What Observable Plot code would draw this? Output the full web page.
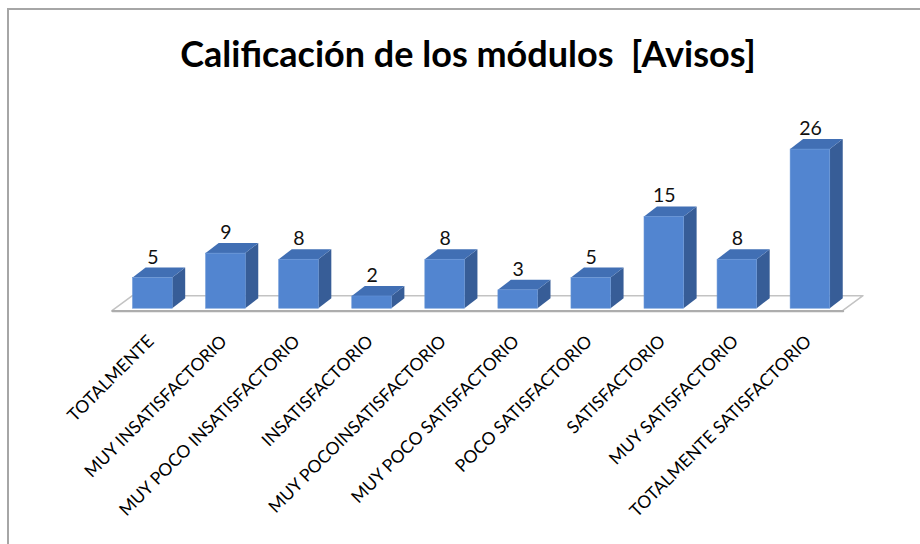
<!DOCTYPE html>
<html><head><meta charset="utf-8">
<script src="https://cdn.jsdelivr.net/npm/d3@7"></script>
<script src="https://cdn.jsdelivr.net/npm/@observablehq/plot@0.6"></script>
<style>
html,body{margin:0;padding:0;background:#fff;}
#wrap{position:relative;width:920px;height:544px;overflow:hidden;font-family:Lato,sans-serif;}
#frame{position:absolute;left:7px;top:8px;width:1000px;height:1000px;border-top:2px solid #a6a6a6;border-left:2px solid #a6a6a6;box-sizing:border-box;}
#title{position:absolute;left:0;top:35px;width:936px;text-align:center;font-size:36px;line-height:36px;font-weight:bold;color:#000;white-space:pre;}
#chart{position:absolute;left:0;top:90px;}
</style>
</head><body>
<div id="wrap">
<div id="frame"></div>
<div id="title"></div>
<div id="chart"></div>
</div>
<script>
const titleText = "Calificación de los módulos  [Avisos]";
const categories = ["TOTALMENTE","MUY INSATISFACTORIO","MUY POCO INSATISFACTORIO","INSATISFACTORIO","MUY POCOINSATISFACTORIO","MUY POCO SATISFACTORIO","POCO SATISFACTORIO","SATISFACTORIO","MUY SATISFACTORIO","TOTALMENTE SATISFACTORIO"];
const values = [5, 9, 8, 2, 8, 3, 5, 15, 8, 26];

document.getElementById("title").textContent = titleText;

const PX = 73.06, PY = 6.12;          // pixels per category / per unit
const OFF = 0.553, HW = 19.8 / PX;    // bar front centre offset, half width
const BDX = 13 / PX, BDY = 10 / PY;   // bar depth
const FY0 = -2.5 / PY, FDX = 20.4 / PX, FDY = 15 / PY; // floor
const n = categories.length;

const rows = categories.map((c, i) => ({c, v: values[i], xc: i + OFF}));
const side = rows.flatMap((d, i) => [
  {k: i, x: d.xc + HW, y1: 0, y2: d.v},
  {k: i, x: d.xc + HW + BDX, y1: BDY, y2: d.v + BDY}
]);
const topFace = rows.flatMap((d, i) => {
  const l = d.xc - HW, r = d.xc + HW, v = d.v;
  return [
    {k: i, x: l, y1: v, y2: v},
    {k: i, x: l + BDX, y1: v, y2: v + BDY},
    {k: i, x: r, y1: v, y2: v + BDY},
    {k: i, x: r + BDX, y1: v + BDY, y2: v + BDY}
  ];
});
const floor = [
  {x: 0, y1: FY0, y2: FY0},
  {x: FDX, y1: FY0, y2: FY0 + FDY},
  {x: n, y1: FY0, y2: FY0 + FDY},
  {x: n + FDX, y1: FY0 + FDY, y2: FY0 + FDY}
];

const H = 454;
const y0 = 218.2;
const plot = Plot.plot({
  width: 920,
  height: H,
  marginBottom: H - 248,
  marginTop: 0, marginLeft: 0, marginRight: 0,
  style: {fontFamily: "Lato, sans-serif", background: "transparent", overflow: "visible"},
  x: {domain: [0, n], range: [112, 112 + PX * n], axis: null},
  y: {domain: [0, 30], range: [y0, y0 - 30 * PY], axis: null},
  marks: [
    Plot.areaY(floor, {x: "x", y1: "y1", y2: "y2", fill: "#ffffff", stroke: "#c3c3c3", strokeWidth: 1.5, curve: "linear"}),
    Plot.line([{x: 0, y: FY0}, {x: n, y: FY0}], {x: "x", y: "y", stroke: "#adadad", strokeWidth: 2.2}),
    Plot.areaY(side, {x: "x", y1: "y1", y2: "y2", z: "k", fill: "#375d97", curve: "linear"}),
    Plot.areaY(topFace, {x: "x", y1: "y1", y2: "y2", z: "k", fill: "#416fb4", curve: "linear"}),
    Plot.rect(rows, {x1: d => d.xc - HW, x2: d => d.xc + HW, y1: 0, y2: "v", fill: "#5285d0", stroke: "#6593d6", strokeWidth: 0.6}),
    Plot.text(rows, {x: "xc", y: "v", text: d => String(d.v), dy: -14.5, lineAnchor: "bottom", fontSize: 19.5, fill: "#111"}),
    Plot.text(rows, {x: "xc", frameAnchor: "bottom", text: "c", rotate: -45, textAnchor: "end", lineAnchor: "middle", dx: -2, fontSize: 17.5, fill: "#000", ariaLabel: "ticklabels"})
  ]
});
plot.querySelectorAll('g[aria-label="ticklabels"] text').forEach(t => t.setAttribute("letter-spacing", "2.1"));
document.getElementById("chart").appendChild(plot);
</script>
</body></html>
